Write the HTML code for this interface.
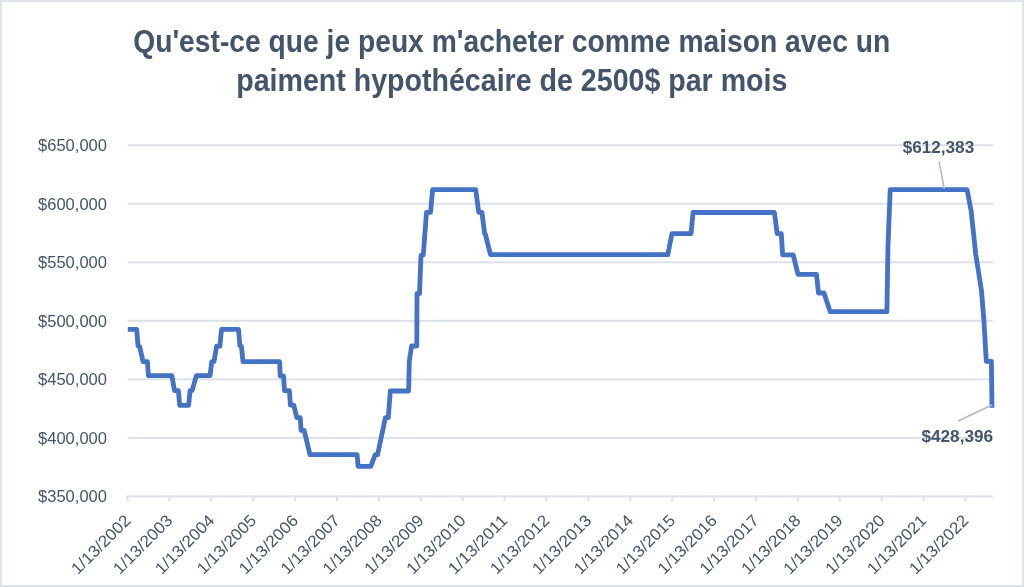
<!DOCTYPE html><html><head><meta charset="utf-8"><style>html,body{margin:0;padding:0;background:#fff;}svg{display:block;will-change:transform;}text{font-family:"Liberation Sans",sans-serif;}</style></head><body>
<svg width="1024" height="587" viewBox="0 0 1024 587">
<rect x="0" y="0" width="1024" height="587" fill="#dee3ea"/>
<rect x="2" y="2" width="1020" height="583" fill="#ffffff"/>
<text x="133.2" y="51.7" font-size="30.5" font-weight="bold" fill="#44546a" textLength="757" lengthAdjust="spacingAndGlyphs">Qu'est-ce que je peux m'acheter comme maison avec un</text>
<text x="236.2" y="90.6" font-size="30.5" font-weight="bold" fill="#44546a" textLength="551.2" lengthAdjust="spacingAndGlyphs">paiment hypothécaire de 2500$ par mois</text>
<rect x="127.6" y="144.20" width="865.4" height="2" fill="#dce1e9"/>
<text x="107" y="151.10" font-size="16.4" fill="#44546a" text-anchor="end" textLength="69" lengthAdjust="spacingAndGlyphs">$650,000</text>
<rect x="127.6" y="202.73" width="865.4" height="2" fill="#dce1e9"/>
<text x="107" y="209.63" font-size="16.4" fill="#44546a" text-anchor="end" textLength="69" lengthAdjust="spacingAndGlyphs">$600,000</text>
<rect x="127.6" y="261.26" width="865.4" height="2" fill="#dce1e9"/>
<text x="107" y="268.16" font-size="16.4" fill="#44546a" text-anchor="end" textLength="69" lengthAdjust="spacingAndGlyphs">$550,000</text>
<rect x="127.6" y="319.79" width="865.4" height="2" fill="#dce1e9"/>
<text x="107" y="326.69" font-size="16.4" fill="#44546a" text-anchor="end" textLength="69" lengthAdjust="spacingAndGlyphs">$500,000</text>
<rect x="127.6" y="378.32" width="865.4" height="2" fill="#dce1e9"/>
<text x="107" y="385.22" font-size="16.4" fill="#44546a" text-anchor="end" textLength="69" lengthAdjust="spacingAndGlyphs">$450,000</text>
<rect x="127.6" y="436.85" width="865.4" height="2" fill="#dce1e9"/>
<text x="107" y="443.75" font-size="16.4" fill="#44546a" text-anchor="end" textLength="69" lengthAdjust="spacingAndGlyphs">$400,000</text>
<text x="107" y="502.28" font-size="16.4" fill="#44546a" text-anchor="end" textLength="69" lengthAdjust="spacingAndGlyphs">$350,000</text>
<rect x="126.6" y="495.38" width="866.4" height="2" fill="#dce1e9"/>
<rect x="126.60" y="495.38" width="2" height="6" fill="#dce1e9"/>
<text transform="translate(131.60,521.5) rotate(-45)" font-size="16.4" fill="#44546a" text-anchor="end" textLength="76" lengthAdjust="spacingAndGlyphs">1/13/2002</text>
<rect x="168.49" y="495.38" width="2" height="6" fill="#dce1e9"/>
<text transform="translate(173.49,521.5) rotate(-45)" font-size="16.4" fill="#44546a" text-anchor="end" textLength="76" lengthAdjust="spacingAndGlyphs">1/13/2003</text>
<rect x="210.38" y="495.38" width="2" height="6" fill="#dce1e9"/>
<text transform="translate(215.38,521.5) rotate(-45)" font-size="16.4" fill="#44546a" text-anchor="end" textLength="76" lengthAdjust="spacingAndGlyphs">1/13/2004</text>
<rect x="252.27" y="495.38" width="2" height="6" fill="#dce1e9"/>
<text transform="translate(257.27,521.5) rotate(-45)" font-size="16.4" fill="#44546a" text-anchor="end" textLength="76" lengthAdjust="spacingAndGlyphs">1/13/2005</text>
<rect x="294.16" y="495.38" width="2" height="6" fill="#dce1e9"/>
<text transform="translate(299.16,521.5) rotate(-45)" font-size="16.4" fill="#44546a" text-anchor="end" textLength="76" lengthAdjust="spacingAndGlyphs">1/13/2006</text>
<rect x="336.05" y="495.38" width="2" height="6" fill="#dce1e9"/>
<text transform="translate(341.05,521.5) rotate(-45)" font-size="16.4" fill="#44546a" text-anchor="end" textLength="76" lengthAdjust="spacingAndGlyphs">1/13/2007</text>
<rect x="377.94" y="495.38" width="2" height="6" fill="#dce1e9"/>
<text transform="translate(382.94,521.5) rotate(-45)" font-size="16.4" fill="#44546a" text-anchor="end" textLength="76" lengthAdjust="spacingAndGlyphs">1/13/2008</text>
<rect x="419.83" y="495.38" width="2" height="6" fill="#dce1e9"/>
<text transform="translate(424.83,521.5) rotate(-45)" font-size="16.4" fill="#44546a" text-anchor="end" textLength="76" lengthAdjust="spacingAndGlyphs">1/13/2009</text>
<rect x="461.72" y="495.38" width="2" height="6" fill="#dce1e9"/>
<text transform="translate(466.72,521.5) rotate(-45)" font-size="16.4" fill="#44546a" text-anchor="end" textLength="76" lengthAdjust="spacingAndGlyphs">1/13/2010</text>
<rect x="503.61" y="495.38" width="2" height="6" fill="#dce1e9"/>
<text transform="translate(508.61,521.5) rotate(-45)" font-size="16.4" fill="#44546a" text-anchor="end" textLength="76" lengthAdjust="spacingAndGlyphs">1/13/2011</text>
<rect x="545.50" y="495.38" width="2" height="6" fill="#dce1e9"/>
<text transform="translate(550.50,521.5) rotate(-45)" font-size="16.4" fill="#44546a" text-anchor="end" textLength="76" lengthAdjust="spacingAndGlyphs">1/13/2012</text>
<rect x="587.39" y="495.38" width="2" height="6" fill="#dce1e9"/>
<text transform="translate(592.39,521.5) rotate(-45)" font-size="16.4" fill="#44546a" text-anchor="end" textLength="76" lengthAdjust="spacingAndGlyphs">1/13/2013</text>
<rect x="629.28" y="495.38" width="2" height="6" fill="#dce1e9"/>
<text transform="translate(634.28,521.5) rotate(-45)" font-size="16.4" fill="#44546a" text-anchor="end" textLength="76" lengthAdjust="spacingAndGlyphs">1/13/2014</text>
<rect x="671.17" y="495.38" width="2" height="6" fill="#dce1e9"/>
<text transform="translate(676.17,521.5) rotate(-45)" font-size="16.4" fill="#44546a" text-anchor="end" textLength="76" lengthAdjust="spacingAndGlyphs">1/13/2015</text>
<rect x="713.06" y="495.38" width="2" height="6" fill="#dce1e9"/>
<text transform="translate(718.06,521.5) rotate(-45)" font-size="16.4" fill="#44546a" text-anchor="end" textLength="76" lengthAdjust="spacingAndGlyphs">1/13/2016</text>
<rect x="754.95" y="495.38" width="2" height="6" fill="#dce1e9"/>
<text transform="translate(759.95,521.5) rotate(-45)" font-size="16.4" fill="#44546a" text-anchor="end" textLength="76" lengthAdjust="spacingAndGlyphs">1/13/2017</text>
<rect x="796.84" y="495.38" width="2" height="6" fill="#dce1e9"/>
<text transform="translate(801.84,521.5) rotate(-45)" font-size="16.4" fill="#44546a" text-anchor="end" textLength="76" lengthAdjust="spacingAndGlyphs">1/13/2018</text>
<rect x="838.73" y="495.38" width="2" height="6" fill="#dce1e9"/>
<text transform="translate(843.73,521.5) rotate(-45)" font-size="16.4" fill="#44546a" text-anchor="end" textLength="76" lengthAdjust="spacingAndGlyphs">1/13/2019</text>
<rect x="880.62" y="495.38" width="2" height="6" fill="#dce1e9"/>
<text transform="translate(885.62,521.5) rotate(-45)" font-size="16.4" fill="#44546a" text-anchor="end" textLength="76" lengthAdjust="spacingAndGlyphs">1/13/2020</text>
<rect x="922.51" y="495.38" width="2" height="6" fill="#dce1e9"/>
<text transform="translate(927.51,521.5) rotate(-45)" font-size="16.4" fill="#44546a" text-anchor="end" textLength="76" lengthAdjust="spacingAndGlyphs">1/13/2021</text>
<rect x="964.40" y="495.38" width="2" height="6" fill="#dce1e9"/>
<text transform="translate(969.40,521.5) rotate(-45)" font-size="16.4" fill="#44546a" text-anchor="end" textLength="76" lengthAdjust="spacingAndGlyphs">1/13/2022</text>
<path d="M127.8,329.4 L136.7,329.4 L138.0,345.7 L139.6,346.4 L143.1,361.7 L147.4,361.7 L148.4,375.6 L171.9,375.6 L174.5,390.7 L178.4,390.7 L179.7,405.4 L188.6,405.4 L190.1,390.7 L192.1,390.7 L196.4,375.6 L210.1,375.6 L211.7,361.7 L214.0,361.7 L216.6,346.2 L219.9,346.2 L221.5,329.4 L238.5,329.4 L239.9,345.7 L241.4,346.2 L243.0,361.7 L279.6,361.7 L280.2,375.9 L283.5,375.9 L284.5,390.6 L289.4,390.6 L290.4,405.2 L293.7,405.2 L296.8,417.6 L300.2,417.6 L301.1,430.3 L304.1,430.3 L310.0,454.6 L357.1,454.6 L358.1,466.4 L370.8,466.4 L375.2,454.7 L377.6,454.7 L385.4,417.6 L388.3,417.6 L390.3,391.0 L408.6,391.0 L409.3,361.3 L411.6,346.0 L416.8,346.0 L417.0,293.6 L419.5,293.6 L421.0,255.4 L423.3,254.9 L426.5,212.3 L430.6,212.3 L432.6,189.6 L475.7,189.6 L478.7,212.3 L481.9,212.3 L484.6,233.5 L485.3,234.2 L490.5,254.7 L667.8,254.7 L671.9,233.7 L691.0,233.7 L693.1,212.5 L774.4,212.5 L777.2,233.7 L781.3,233.7 L782.6,254.9 L793.2,254.9 L798.0,274.4 L816.5,274.4 L818.5,293.0 L824.0,293.0 L830.2,311.7 L886.9,311.7 L888.0,245.4 L890.2,189.6 L967.1,189.6 L971.2,211.4 L975.7,254.0 L981.5,290.8 L983.9,320.4 L986.3,361.3 L991.4,361.3 L992.0,407.8" fill="none" stroke="#4472c4" stroke-width="4.8" stroke-linejoin="round" stroke-linecap="butt"/>
<line x1="939.1" y1="161.4" x2="944.2" y2="189.0" stroke="#adb9c8" stroke-width="1.6"/>
<line x1="992.4" y1="404.7" x2="958.2" y2="421.1" stroke="#adb9c8" stroke-width="1.7"/>
<text x="902.7" y="153" font-size="16.5" font-weight="bold" fill="#44546a" textLength="71.5" lengthAdjust="spacingAndGlyphs">$612,383</text>
<text x="921.5" y="441.5" font-size="16.5" font-weight="bold" fill="#44546a" textLength="71.5" lengthAdjust="spacingAndGlyphs">$428,396</text>
</svg></body></html>
